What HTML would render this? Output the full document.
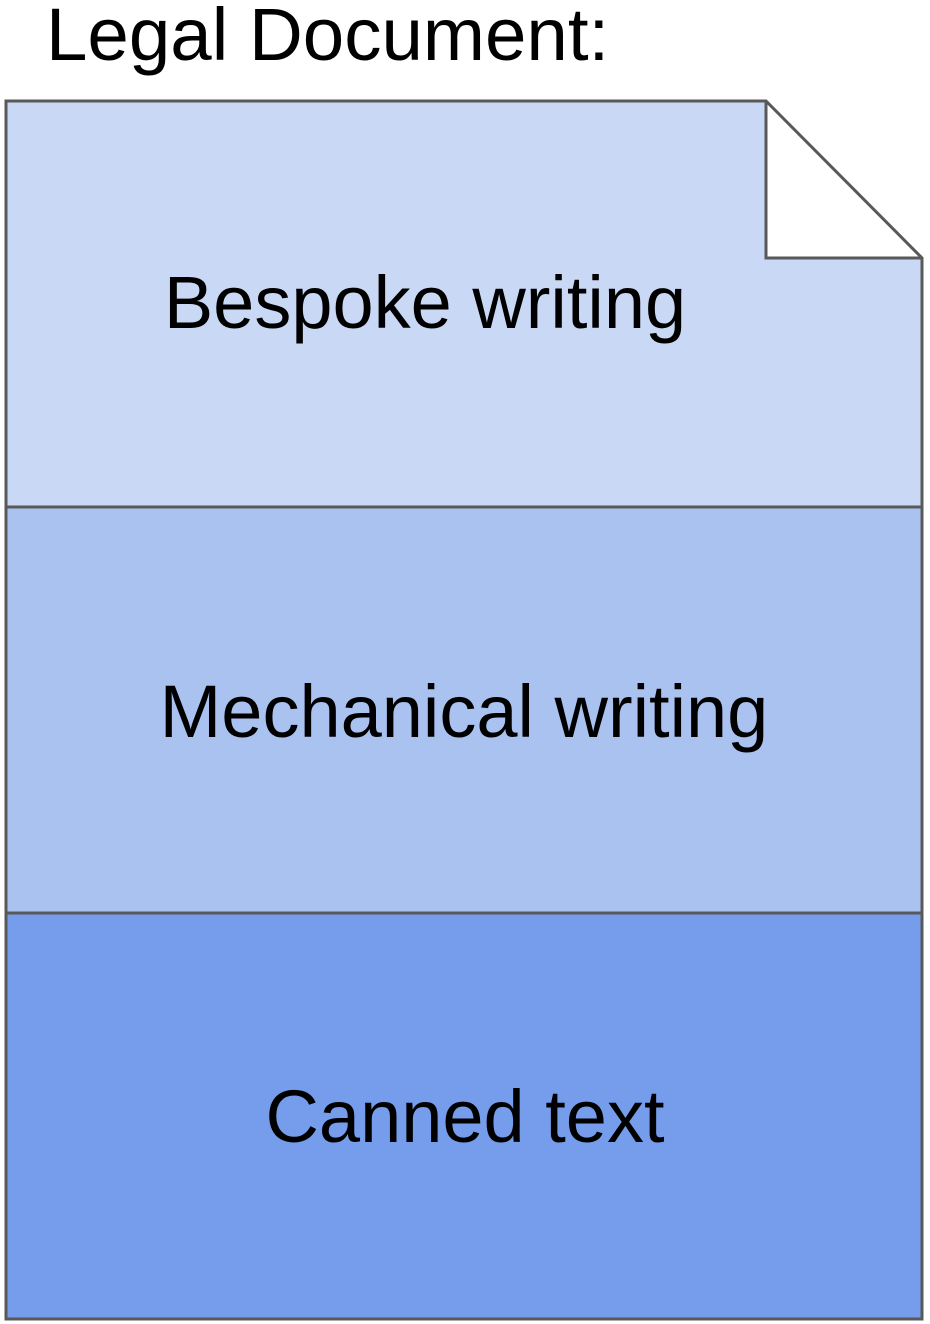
<!DOCTYPE html>
<html><head><meta charset="utf-8"><style>
html,body{margin:0;padding:0;background:#fff;}
svg{display:block}
text{font-family:"Liberation Sans",Arial,sans-serif;fill:#000}
</style></head><body>
<svg width="930" height="1324" viewBox="0 0 930 1324" xmlns="http://www.w3.org/2000/svg">
<text x="46" y="60" font-size="74.5">Legal Document:</text>
<path d="M6,101 H766 L922,258 V507 H6 Z" fill="#c9d9f5"/>
<rect x="6" y="507" width="916" height="406" fill="#a9c2f0"/>
<rect x="6" y="913" width="916" height="406" fill="#759deb"/>
<path d="M766,101 L922,258 H766 Z" fill="#fff"/>
<g stroke="#595959" stroke-width="3" fill="none" stroke-linejoin="miter">
<path d="M6,101 H766 L922,258 V1319 H6 Z"/>
<path d="M766,101 V258 H922"/>
<line x1="6" y1="507" x2="922" y2="507"/>
<line x1="6" y1="913" x2="922" y2="913"/>
</g>
<text x="425" y="328" font-size="74" text-anchor="middle">Bespoke writing</text>
<text x="464" y="737" font-size="74" text-anchor="middle">Mechanical writing</text>
<text x="465" y="1142" font-size="74" text-anchor="middle">Canned text</text>
</svg>
</body></html>
